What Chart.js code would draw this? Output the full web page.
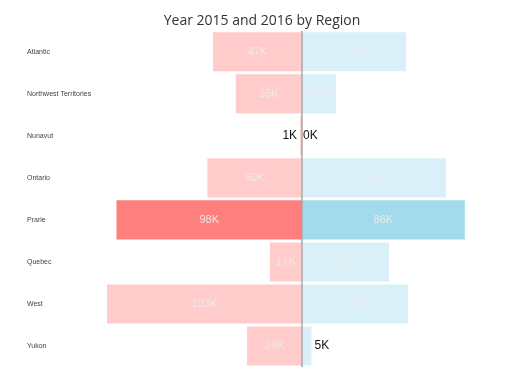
<!DOCTYPE html>
<html>
<head>
<meta charset="utf-8">
<script src="https://cdn.jsdelivr.net/npm/chart.js@4/dist/chart.umd.min.js"></script>
<style>
  html,body{margin:0;padding:0;background:#fff;}
  #wrap{width:512px;height:384px;}
</style>
</head>
<body>
<div id="wrap"><canvas id="c" width="512" height="384"></canvas></div>
<script>
const regions = ['Atlantic','Northwest Territories','Nunavut','Ontario','Prarie','Quebec','West','Yukon'];
const values2015 = [47, 35, 1, 50, 98, 17, 103, 29];
const values2016 = [55, 18, 0, 76, 86, 46, 56, 5];
const highlightIdx = 4;

function barColors(light, strong){
  return regions.map((r,i) => i === highlightIdx ? strong : light);
}

// draws "NNK" inside each bar, or outside when the bar is too narrow
const valueLabels = {
  id: 'valueLabels',
  afterDatasetsDraw(chart){
    const ctx = chart.ctx;
    ctx.save();
    ctx.textBaseline = 'middle';
    chart.data.datasets.forEach((ds, di) => {
      const meta = chart.getDatasetMeta(di);
      meta.data.forEach((bar, i) => {
        const v = Math.abs(ds.data[i]);
        const txt = v + 'K';
        const left = Math.min(bar.x, bar.base), right = Math.max(bar.x, bar.base);
        const w = right - left;
        ctx.font = '11px "Liberation Sans", Arial, sans-serif';
        const tw = ctx.measureText(txt).width;
        if(w > tw + 4){
          ctx.fillStyle = 'rgba(235,235,235,0.95)';
          ctx.textAlign = 'center';
          ctx.fillText(txt, (left+right)/2, bar.y);
        } else {
          ctx.font = '12px "Liberation Sans", Arial, sans-serif';
          ctx.fillStyle = '#111';
          if(di === 0){ ctx.textAlign = 'right'; ctx.fillText(txt, left - 3, bar.y); }
          else { ctx.textAlign = 'left'; ctx.fillText(txt, right + 3, bar.y); }
        }
      });
    });
    ctx.restore();
  }
};

// vertical line at zero
const zeroLine = {
  id: 'zeroLine',
  afterDatasetsDraw(chart){
    const x = chart.scales.x.getPixelForValue(0);
    const a = chart.chartArea, ctx = chart.ctx;
    ctx.save();
    ctx.strokeStyle = '#a8a8a8';
    ctx.lineWidth = 1.5;
    ctx.beginPath(); ctx.moveTo(x, a.top); ctx.lineTo(x, a.bottom); ctx.stroke();
    ctx.restore();
  }
};

new Chart(document.getElementById('c'), {
  type: 'bar',
  data: {
    labels: regions,
    datasets: [
      { label: '2015', data: values2015.map(v => -v), backgroundColor: barColors('#ffcccb', '#ff7f7e'), borderWidth: 0 },
      { label: '2016', data: values2016, backgroundColor: barColors('#d9f0f8', '#a3dbed'), borderWidth: 0 }
    ]
  },
  options: {
    indexAxis: 'y',
    responsive: false,
    animation: false,
    layout: { padding: { left: 27, right: 15, top: 0, bottom: 17 } },
    plugins: {
      legend: { display: false },
      tooltip: { enabled: false },
      title: {
        display: true, text: 'Year 2015 and 2016 by Region',
        color: '#333', font: { size: 14, family: '"Open Sans", sans-serif', weight: 'normal' },
        padding: { top: 13, bottom: 1 }
      }
    },
    scales: {
      x: { stacked: true, display: false, min: -103, max: 103 },
      y: {
        stacked: true,
        grid: { display: false }, border: { display: false },
        ticks: { crossAlign: 'far', color: '#444', padding: 0, font: { size: 7, family: '"Liberation Sans", Arial, sans-serif' } },
        afterFit(s){ s.width = 80; }
      }
    },
    datasets: { bar: { barPercentage: 0.93, categoryPercentage: 1 } }
  },
  plugins: [valueLabels, zeroLine]
});
</script>
</body>
</html>
